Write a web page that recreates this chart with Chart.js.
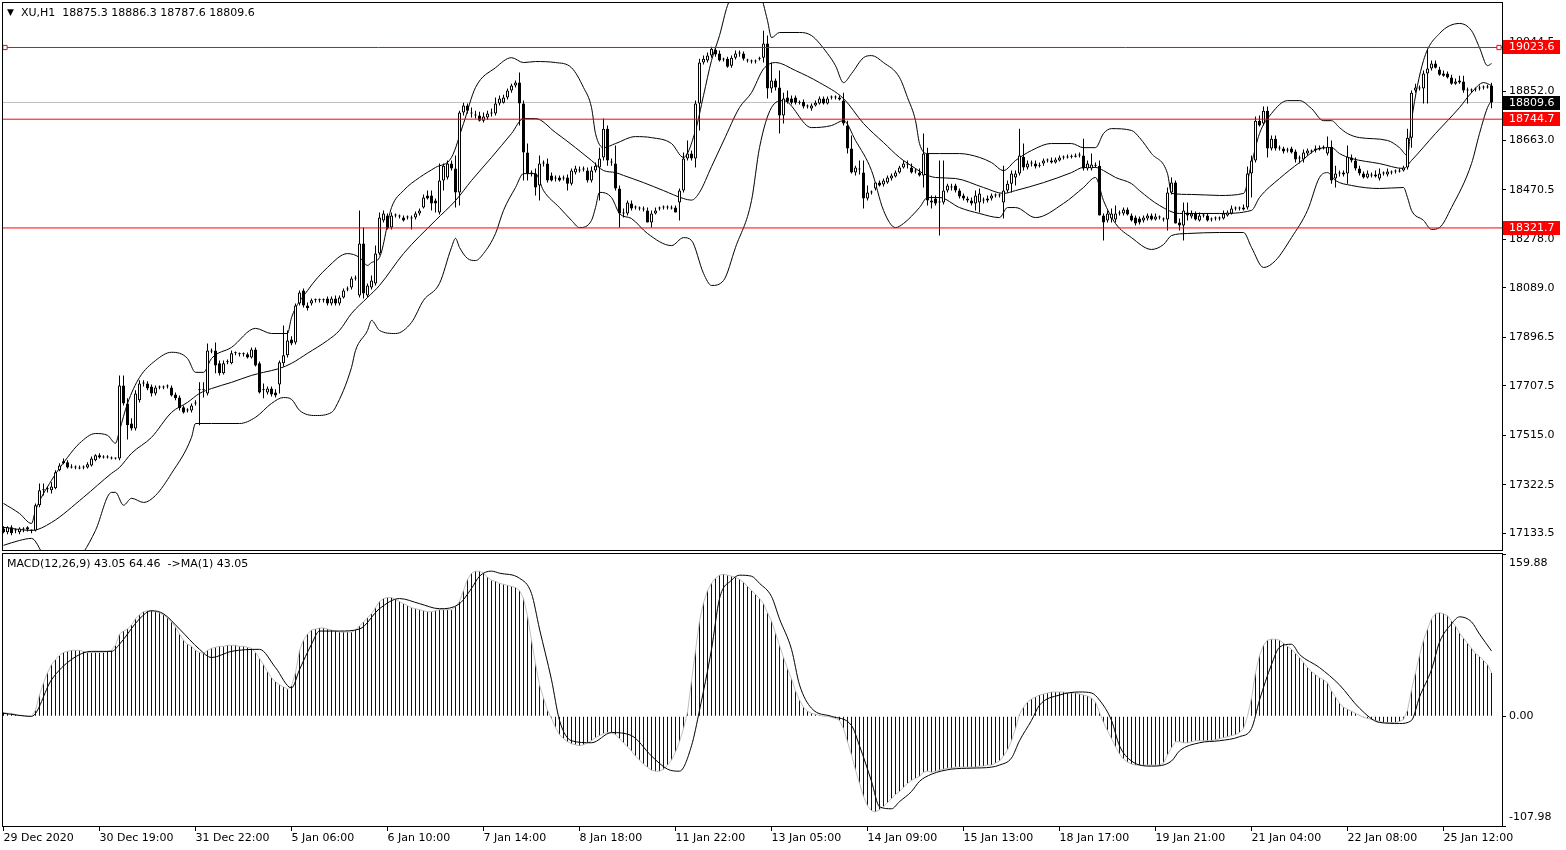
<!DOCTYPE html>
<html>
<head>
<meta charset="utf-8">
<title>XU,H1</title>
<script src="https://cdn.jsdelivr.net/npm/chart.js@4.4.1/dist/chart.umd.min.js"></script>
<style>
  body { margin: 0; background: #fff; }
  #wrap { position: relative; width: 1566px; height: 850px; overflow: hidden; background: #fff; }
  canvas { position: absolute; left: 0; }
  #main { top: 0; }
  #macd { top: 552px; }
  .txt { position: absolute; font: 11px/13px "DejaVu Sans"; color: #000; white-space: pre; }
</style>
</head>
<body>
<div id="wrap">
  <canvas id="main" width="1566" height="551"></canvas>
  <canvas id="macd" width="1566" height="298"></canvas>
  <div class="txt" style="left:7px;top:6px;font-size:9px">▼</div>
  <div class="txt" style="left:21px;top:6px">XU,H1  18875.3 18886.3 18787.6 18809.6</div>
  <div class="txt" style="left:7px;top:557px">MACD(12,26,9) 43.05 64.46  -&gt;MA(1) 43.05</div>
</div>
<script>
// time axis: bar index of each label and its text
const timeTicks = [0, 24, 48, 72, 96, 120, 144, 168, 192, 216, 240, 264, 288, 312, 336, 360];
const timeLabels = ['29 Dec 2020', '30 Dec 19:00', '31 Dec 22:00', '5 Jan 06:00', '6 Jan 10:00',
  '7 Jan 14:00', '8 Jan 18:00', '11 Jan 22:00', '13 Jan 05:00', '14 Jan 09:00', '15 Jan 13:00',
  '18 Jan 17:00', '19 Jan 21:00', '21 Jan 04:00', '22 Jan 08:00', '25 Jan 12:00'];

const priceTicks = [19044.5, 18852.0, 18663.0, 18470.5, 18278.0, 18089.0, 17896.5, 17707.5, 17515.0, 17322.5, 17133.5];
const macdTicks = [-107.98, 0, 159.88];

const levels = [19023.6, 18744.7, 18321.7];
const bid = 18809.6;

// XU H1 candles: open, high, low, close
const ohlc = [
  [17153,17161,17134,17138],[17138,17161,17130,17157],[17157,17165,17126,17134],[17145,17153,17134,17145],
  [17138,17157,17130,17153],[17149,17157,17138,17149],[17157,17161,17141,17149],[17145,17149,17134,17145],
  [17145,17250,17141,17243],[17243,17328,17235,17301],[17301,17328,17281,17305],[17305,17316,17293,17305],
  [17301,17332,17289,17316],[17309,17379,17305,17371],[17379,17406,17375,17398],[17406,17425,17402,17414],
  [17410,17418,17386,17390],[17394,17402,17386,17390],[17390,17398,17383,17390],[17390,17398,17383,17386],
  [17390,17398,17383,17390],[17390,17410,17386,17402],[17398,17433,17394,17425],[17418,17441,17414,17437],
  [17437,17445,17425,17429],[17429,17437,17425,17429],[17429,17437,17425,17429],[17425,17433,17421,17425],
  [17425,17429,17421,17425],[17425,17748,17418,17709],[17709,17748,17631,17639],[17639,17659,17499,17554],
  [17561,17581,17534,17542],[17542,17690,17534,17678],[17651,17729,17643,17717],[17717,17729,17705,17717],
  [17717,17725,17690,17697],[17705,17713,17666,17678],[17678,17709,17670,17701],[17701,17709,17694,17701],
  [17701,17709,17694,17701],[17705,17713,17697,17705],[17701,17709,17666,17670],[17674,17682,17651,17659],
  [17662,17670,17612,17620],[17624,17631,17600,17604],[17612,17620,17604,17612],[17612,17639,17604,17631],
  [17639,17651,17631,17639],[17690,17721,17554,17690],[17690,17721,17662,17690],[17678,17872,17670,17845],
  [17841,17853,17834,17845],[17845,17876,17756,17787],[17795,17806,17748,17756],[17756,17806,17752,17795],
  [17799,17810,17791,17799],[17795,17845,17791,17834],[17834,17841,17826,17834],[17830,17837,17822,17830],
  [17830,17837,17822,17830],[17830,17837,17814,17818],[17818,17857,17814,17849],[17849,17857,17783,17787],
  [17795,17802,17678,17682],[17690,17717,17659,17690],[17682,17705,17674,17697],[17697,17705,17666,17674],
  [17682,17694,17662,17670],[17713,17806,17678,17799],[17795,17942,17783,17826],[17826,17923,17818,17884],
  [17888,17900,17865,17872],[17876,18028,17868,18020],[18028,18078,18020,18071],[18078,18086,18012,18020],
  [18020,18032,18001,18009],[18028,18047,18020,18040],[18040,18047,18032,18040],[18040,18047,18032,18040],
  [18040,18047,18032,18040],[18047,18055,18020,18028],[18028,18055,18020,18047],[18047,18059,18020,18028],
  [18028,18059,18020,18051],[18051,18086,18047,18078],[18082,18094,18075,18086],[18090,18133,18082,18125],
  [18125,18137,18117,18125],[18059,18390,18051,18261],[18261,18323,18047,18067],[18059,18106,18051,18098],
  [18090,18137,18082,18117],[18106,18253,18098,18222],[18222,18382,18215,18362],[18351,18390,18343,18378],
  [18370,18378,18316,18320],[18323,18382,18316,18370],[18370,18378,18362,18370],[18366,18374,18358,18366],
  [18362,18370,18347,18351],[18362,18370,18355,18362],[18358,18370,18316,18358],[18362,18386,18355,18378],
  [18378,18397,18370,18390],[18401,18452,18397,18440],[18448,18467,18432,18436],[18448,18467,18390,18417],
  [18428,18436,18382,18417],[18382,18572,18374,18506],[18506,18572,18467,18564],[18518,18584,18510,18572],
  [18572,18584,18545,18553],[18553,18603,18401,18460],[18460,18778,18409,18771],[18771,18809,18759,18798],
  [18798,18806,18767,18778],[18767,18790,18751,18767],[18759,18778,18747,18759],[18759,18774,18736,18739],
  [18739,18771,18732,18755],[18751,18778,18743,18767],[18767,18786,18755,18767],[18767,18829,18759,18806],
  [18806,18837,18798,18825],[18809,18840,18806,18829],[18829,18864,18821,18856],[18856,18883,18848,18876],
  [18876,18895,18868,18887],[18887,18926,18720,18806],[18806,18817,18506,18615],[18615,18650,18506,18533],
  [18533,18545,18522,18537],[18533,18553,18448,18479],[18487,18603,18428,18572],[18572,18584,18561,18572],
  [18572,18592,18498,18506],[18526,18537,18502,18506],[18514,18526,18502,18514],[18518,18526,18502,18506],
  [18514,18526,18506,18514],[18518,18530,18467,18494],[18494,18553,18487,18545],[18537,18564,18530,18553],
  [18545,18561,18537,18545],[18549,18561,18541,18549],[18545,18557,18498,18506],[18506,18561,18498,18545],
  [18545,18576,18537,18564],[18557,18634,18428,18592],[18596,18747,18584,18708],[18708,18720,18564,18584],
  [18576,18592,18564,18576],[18572,18642,18467,18475],[18475,18487,18323,18378],[18382,18397,18362,18378],
  [18378,18428,18370,18421],[18417,18428,18390,18397],[18401,18409,18393,18401],[18397,18405,18390,18397],
  [18393,18405,18386,18393],[18390,18401,18343,18343],[18343,18390,18323,18378],[18378,18401,18374,18390],
  [18397,18405,18390,18397],[18401,18409,18393,18401],[18401,18409,18393,18401],[18401,18409,18393,18397],
  [18401,18409,18382,18382],[18421,18475,18351,18467],[18467,18615,18460,18592],[18592,18662,18584,18611],
  [18611,18623,18584,18592],[18592,18817,18557,18806],[18806,18980,18701,18965],[18965,18992,18957,18980],
  [18973,19004,18965,18992],[18992,19027,18984,19019],[19015,19027,18988,18996],[19000,19012,18969,18973],
  [18977,18984,18969,18977],[18980,18988,18945,18949],[18953,18992,18945,18984],[18984,19012,18977,19000],
  [19000,19012,18988,19000],[19000,19008,18973,18980],[18973,18980,18965,18973],[18969,18977,18961,18969],
  [18969,18977,18961,18969],[18980,18988,18973,18980],[18984,19089,18965,19039],[19039,19070,18825,18864],
  [18864,18965,18848,18895],[18895,18903,18856,18868],[18868,18934,18689,18759],[18759,18848,18728,18825],
  [18829,18856,18806,18813],[18825,18837,18802,18809],[18829,18837,18802,18809],[18809,18817,18802,18809],
  [18813,18821,18786,18794],[18794,18802,18786,18794],[18786,18806,18778,18798],[18798,18817,18794,18809],
  [18806,18833,18802,18825],[18825,18833,18802,18806],[18806,18833,18802,18825],[18829,18837,18821,18829],
  [18829,18837,18821,18829],[18829,18837,18817,18821],[18817,18848,18720,18728],[18720,18739,18611,18631],
  [18631,18681,18533,18537],[18537,18564,18526,18557],[18549,18584,18530,18549],[18537,18584,18397,18436],
  [18436,18487,18428,18460],[18460,18467,18452,18460],[18475,18498,18467,18498],[18498,18506,18483,18487],
  [18491,18514,18483,18506],[18498,18526,18494,18518],[18514,18533,18506,18526],[18522,18545,18518,18537],
  [18537,18564,18533,18557],[18557,18584,18553,18572],[18568,18584,18553,18568],[18557,18572,18533,18537],
  [18541,18553,18533,18541],[18537,18553,18522,18526],[18526,18689,18479,18611],[18611,18634,18409,18428],
  [18428,18448,18397,18421],[18436,18448,18409,18417],[18421,18584,18292,18421],[18421,18584,18413,18467],
  [18467,18494,18460,18487],[18479,18494,18467,18479],[18487,18494,18460,18467],[18467,18475,18436,18444],
  [18448,18456,18428,18436],[18436,18444,18421,18428],[18428,18440,18409,18417],[18417,18467,18390,18448],
  [18421,18475,18382,18456],[18428,18440,18417,18428],[18428,18448,18421,18436],[18436,18456,18428,18448],
  [18448,18456,18440,18448],[18448,18456,18440,18448],[18421,18564,18358,18467],[18467,18506,18460,18494],
  [18494,18545,18460,18533],[18518,18545,18487,18533],[18533,18708,18526,18603],[18599,18650,18545,18557],
  [18557,18584,18549,18572],[18572,18584,18561,18572],[18572,18584,18553,18561],[18564,18576,18557,18564],
  [18572,18592,18564,18584],[18584,18592,18576,18584],[18584,18596,18572,18576],[18576,18596,18572,18588],
  [18584,18603,18580,18596],[18596,18603,18588,18596],[18596,18607,18592,18599],[18599,18607,18592,18599],
  [18599,18611,18596,18603],[18603,18615,18596,18603],[18603,18669,18545,18553],[18553,18584,18545,18572],
  [18553,18611,18545,18568],[18564,18576,18557,18564],[18564,18584,18370,18370],[18370,18378,18273,18343],
  [18351,18390,18343,18378],[18358,18397,18343,18378],[18355,18409,18343,18378],[18378,18390,18370,18378],
  [18378,18401,18370,18393],[18393,18401,18370,18374],[18370,18378,18347,18351],[18362,18370,18331,18339],
  [18358,18366,18335,18343],[18351,18370,18343,18362],[18358,18378,18351,18370],[18370,18378,18351,18355],
  [18355,18378,18351,18366],[18362,18370,18355,18362],[18355,18362,18347,18355],[18355,18479,18312,18460],
  [18460,18518,18452,18498],[18498,18506,18339,18339],[18343,18358,18312,18331],[18331,18421,18273,18390],
  [18382,18421,18351,18370],[18366,18390,18358,18378],[18378,18386,18351,18355],[18351,18382,18347,18370],
  [18370,18378,18362,18370],[18370,18378,18347,18351],[18355,18362,18347,18355],[18358,18366,18351,18358],
  [18358,18366,18351,18358],[18358,18390,18355,18378],[18370,18390,18366,18382],[18378,18409,18374,18397],
  [18397,18405,18390,18397],[18397,18405,18390,18397],[18393,18413,18390,18401],[18401,18561,18393,18533],
  [18533,18603,18440,18584],[18584,18755,18576,18739],[18739,18759,18716,18720],[18728,18794,18720,18778],
  [18778,18794,18596,18631],[18631,18681,18623,18669],[18669,18681,18623,18631],[18631,18642,18623,18631],
  [18631,18638,18611,18619],[18623,18634,18615,18623],[18631,18638,18611,18615],[18619,18627,18576,18588],
  [18592,18603,18572,18592],[18588,18627,18576,18615],[18611,18631,18603,18623],[18619,18627,18611,18619],
  [18623,18642,18615,18631],[18627,18642,18623,18634],[18634,18642,18627,18634],[18611,18677,18603,18638],
  [18638,18662,18494,18506],[18514,18564,18479,18533],[18533,18545,18522,18533],[18530,18545,18522,18537],
  [18533,18642,18494,18599],[18596,18607,18576,18584],[18584,18596,18545,18553],[18553,18564,18526,18533],
  [18533,18541,18514,18518],[18518,18545,18514,18533],[18526,18537,18518,18526],[18522,18545,18518,18530],
  [18514,18553,18506,18533],[18533,18541,18526,18533],[18530,18553,18522,18541],[18537,18545,18530,18537],
  [18541,18549,18533,18541],[18541,18553,18537,18545],[18545,18564,18541,18557],[18557,18708,18549,18673],
  [18673,18856,18634,18848],[18856,18883,18848,18868],[18864,18876,18856,18864],[18864,18934,18806,18922],
  [18922,19019,18806,18942],[18942,18973,18934,18961],[18961,18973,18942,18945],[18938,18949,18914,18918],
  [18922,18934,18910,18914],[18922,18930,18903,18907],[18907,18918,18879,18883],[18883,18903,18879,18891],
  [18887,18914,18883,18895],[18891,18914,18848,18856],[18856,18868,18806,18856],[18856,18864,18848,18856],
  [18860,18868,18852,18860],[18864,18876,18856,18868],[18868,18876,18860,18868],[18868,18879,18864,18872],
  [18875.3,18886.3,18787.6,18809.6]
];

// Bollinger bands (20, 2): [bar index, price]
const bbUpper = [[0,17250],[4,17211],[7,17172],[8,17223],[12,17340],[16,17429],[19,17484],[23,17522],[26,17515],[28,17484],
  [29,17534],[31,17639],[34,17740],[38,17806],[42,17838],[46,17814],[48,17760],[50,17760],[52,17814],[57,17857],
  [63,17931],[67,17911],[71,17911],[72,17973],[76,18078],[81,18168],[86,18222],[89,18207],[91,18176],[92,18187],
  [94,18207],[97,18401],[100,18467],[104,18518],[108,18557],[112,18596],[115,18728],[118,18868],[123,18945],[127,18984],
  [130,18965],[133,18969],[138,18965],[142,18945],[145,18868],[147,18790],[148,18689],[150,18634],[153,18650],[158,18677],
  [162,18673],[167,18650],[170,18596],[173,18701],[175,18837],[177,18973],[179,19070],[181,19187],[186,19323],[189,19245],
  [191,19128],[192,19062],[194,19082],[199,19082],[202,19070],[206,19000],[208,18953],[210,18887],[212,18922],[215,18984],
  [217,18992],[220,18965],[224,18907],[226,18829],[228,18739],[229,18650],[231,18611],[234,18611],[239,18611],[244,18596],
  [247,18576],[250,18545],[253,18584],[257,18623],[262,18650],[267,18650],[270,18634],[273,18634],[275,18689],[277,18708],
  [282,18701],[284,18673],[287,18611],[291,18533],[292,18456],[297,18452],[304,18448],[310,18456],[312,18572],[314,18689],
  [317,18767],[321,18817],[324,18817],[327,18786],[330,18739],[332,18739],[334,18712],[336,18689],[339,18673],[346,18662],
  [349,18634],[351,18603],[352,18739],[355,18973],[359,19078],[364,19117],[367,19089],[369,19023],[371,18953],[372,18961]];

const bbMiddle = [[0,17157],[7,17145],[12,17176],[20,17274],[27,17367],[29,17390],[32,17445],[37,17507],[42,17604],[46,17643],
  [49,17678],[52,17697],[57,17721],[62,17748],[65,17760],[69,17775],[72,17795],[76,17834],[81,17884],[84,17923],
  [87,17989],[91,18051],[94,18098],[100,18222],[108,18351],[113,18428],[117,18506],[122,18596],[127,18689],[130,18747],
  [133,18747],[138,18693],[143,18634],[147,18584],[150,18545],[153,18537],[155,18526],[160,18498],[165,18467],[170,18436],
  [172,18430],[174,18460],[177,18560],[180,18660],[184,18790],[187,18848],[190,18940],[193,18965],[198,18934],[204,18887],
  [210,18825],[215,18728],[220,18654],[224,18596],[228,18553],[230,18533],[233,18518],[238,18514],[245,18479],[250,18456],
  [253,18467],[260,18498],[267,18537],[270,18557],[273,18557],[275,18545],[278,18518],[282,18494],[284,18467],[289,18409],
  [294,18378],[304,18378],[312,18390],[314,18440],[319,18514],[324,18576],[329,18631],[332,18634],[334,18611],[337,18592],
  [344,18572],[350,18553],[352,18584],[358,18689],[364,18790],[367,18848],[370,18887],[372,18876]];

const bbLower = [[0,17087],[4,17106],[7,17114],[10,17048],[14,16951],[20,17060],[23,17145],[27,17293],[28,17293],[30,17243],
  [32,17270],[35,17254],[38,17281],[42,17367],[47,17507],[48,17561],[52,17561],[59,17561],[63,17585],[67,17639],
  [70,17662],[72,17655],[74,17612],[78,17592],[82,17604],[83,17624],[87,17779],[88,17845],[91,17923],[92,17962],
  [94,17923],[98,17911],[102,17954],[105,18040],[109,18106],[112,18246],[113,18281],[114,18246],[116,18203],[118,18195],
  [120,18222],[123,18300],[125,18390],[128,18479],[130,18533],[133,18533],[135,18467],[139,18401],[142,18351],[144,18323],
  [147,18351],[148,18401],[149,18460],[152,18440],[154,18378],[157,18358],[161,18300],[167,18253],[170,18284],[172,18273],
  [175,18145],[177,18098],[180,18117],[183,18246],[187,18428],[189,18634],[192,18790],[195,18817],[202,18712],[207,18720],
  [210,18739],[213,18662],[217,18545],[220,18390],[223,18323],[225,18339],[229,18401],[231,18440],[234,18440],[239,18401],
  [244,18378],[249,18362],[251,18401],[253,18401],[258,18362],[265,18417],[270,18479],[273,18518],[275,18428],[278,18339],
  [282,18284],[287,18238],[290,18257],[292,18292],[296,18300],[304,18304],[310,18304],[312,18246],[315,18168],[318,18195],
  [322,18284],[326,18390],[329,18518],[331,18537],[333,18506],[337,18487],[344,18475],[350,18479],[351,18440],[352,18390],
  [355,18351],[357,18316],[359,18323],[362,18401],[367,18572],[369,18689],[371,18790],[372,18817]];

// MACD(12,26,9) main line, one value per bar
const macdMain = [
  4,3,3,2,1,1,0,0,6,21,
  33,43,51,56,60,63,64,65,65,65,
  64,63,63,63,63,63,64,65,70,81,
  84,86,90,96,100,103,104,104,103,102,
  100,97,93,88,81,75,71,69,65,63,
  62,65,67,68,69,69,70,70,70,69,
  69,68,67,63,57,51,44,38,34,31,
  29,27,30,43,65,75,81,85,86,87,
  87,86,85,84,83,83,83,83,85,89,
  93,97,101,107,113,116,117,117,115,113,
  111,109,107,106,105,104,103,103,104,105,
  105,105,105,108,113,124,135,141,143,143,
  141,137,134,133,131,130,129,128,127,124,
  116,99,75,52,31,18,6,-2,-11,-18,
  -22,-25,-27,-28,-29,-28,-26,-24,-21,-19,
  -17,-16,-16,-18,-22,-26,-30,-34,-39,-43,
  -47,-50,-53,-54,-54,-52,-48,-43,-35,-25,
  -12,4,35,65,94,112,124,131,136,139,
  140,139,138,137,135,132,128,124,120,116,
  111,102,94,82,70,58,47,37,25,16,
  9,5,3,2,1,0,0,-1,-2,-4,
  -12,-25,-38,-53,-66,-79,-88,-93,-94,-92,
  -89,-85,-81,-77,-74,-70,-66,-63,-61,-59,
  -55,-54,-55,-54,-53,-52,-51,-51,-50,-50,
  -50,-50,-50,-50,-49,-49,-48,-48,-46,-44,
  -39,-33,-24,-12,2,9,14,17,19,21,
  22,23,24,24,24,24,23,23,23,22,
  21,20,18,14,4,-6,-14,-22,-30,-37,
  -42,-45,-47,-48,-48,-48,-48,-48,-48,-48,
  -46,-38,-31,-25,-25,-26,-26,-25,-24,-24,
  -24,-24,-24,-23,-22,-21,-20,-19,-18,-16,
  -12,0,18,43,60,70,75,76,76,75,
  72,69,66,62,58,53,48,44,41,38,
  36,33,25,19,13,9,7,5,3,1,
  -1,-2,-3,-4,-5,-6,-6,-6,-6,-5,
  -3,6,26,43,60,75,86,96,101,102,
  101,99,94,89,82,77,72,67,62,59,
  55,51,43.05
];

// signal line: [bar index, value]
const macdSignal = [[0,3],[7,0],[12,36],[17,56],[22,64],[27,64],[29,71],[34,96],[37,104],[40,101],
  [44,86],[49,66],[52,58],[57,64],[64,66],[68,48],[72,28],[74,46],[77,71],[79,84],
  [84,84],[89,86],[94,106],[99,116],[104,111],[109,106],[114,111],[117,126],[119,138],[122,143],
  [124,141],[129,136],[132,121],[134,86],[137,36],[139,-4],[142,-24],[147,-26],[152,-16],[157,-19],
  [162,-39],[166,-52],[169,-54],[172,-29],[174,6],[177,66],[179,116],[182,134],[184,139],[187,138],
  [189,131],[192,118],[194,96],[197,66],[199,31],[202,8],[207,0],[212,-9],[214,-29],[217,-64],
  [219,-89],[222,-91],[224,-84],[227,-74],[229,-64],[232,-57],[237,-52],[242,-51],[247,-50],[249,-48],
  [252,-41],[254,-24],[257,-4],[259,11],[264,21],[269,24],[272,23],[274,16],[277,-4],[279,-29],
  [282,-44],[287,-49],[292,-44],[294,-34],[299,-26],[304,-24],[309,-20],[312,-12],[314,16],[317,51],
  [319,68],[322,71],[324,61],[329,48],[334,31],[339,8],[344,-6],[349,-7],[352,-4],[354,19],
  [357,46],[359,73],[362,91],[364,98],[367,93],[369,81],[372,64.46]];

const X_MIN = -0.375, X_MAX = 374.625;
const FONT = { family: 'DejaVu Sans', size: 11 };
const RED = '#ff0000';

const pts = arr => arr.map(p => ({ x: p[0], y: p[1] }));

const framePlugin = {
  id: 'frame',
  afterDraw(chart) {
    const { ctx, chartArea: a } = chart;
    ctx.save();
    ctx.strokeStyle = '#000';
    ctx.lineWidth = 1;
    ctx.strokeRect(a.left + 0.5, a.top - 0.5, a.right - a.left, a.bottom - a.top + 1);
    ctx.restore();
  }
};

const tagPlugin = {
  id: 'tags',
  afterDraw(chart) {
    const { ctx, scales: { y } } = chart;
    const tags = [[levels[0], RED], [bid, '#000'], [levels[1], RED], [levels[2], RED]];
    ctx.save();
    ctx.font = '11px "DejaVu Sans"';
    ctx.textBaseline = 'middle';
    tags.forEach(([v, c]) => {
      const py = Math.round(y.getPixelForValue(v));
      ctx.fillStyle = c;
      ctx.fillRect(1503, py - 7, 57, 14);
      ctx.fillStyle = '#fff';
      ctx.fillText(v.toFixed(1), 1509, py);
    });
    ctx.restore();
  }
};

const hline = (v, color, marks) => ({
  type: 'line',
  data: (marks ? [X_MIN, X_MIN + 0.75, X_MAX - 0.75, X_MAX] : [X_MIN, X_MAX]).map(x => ({ x, y: v })),
  borderColor: color,
  borderWidth: 1,
  pointRadius: marks ? [0, 3, 3, 0] : 0,
  pointStyle: 'rect',
  pointBackgroundColor: '#fff',
  pointBorderColor: color,
  pointBorderWidth: 1,
  order: 0
});

const band = arr => ({
  type: 'line', data: pts(arr), borderColor: '#000', borderWidth: 1,
  pointRadius: 0, cubicInterpolationMode: 'monotone', order: 3
});

const baseOpts = {
  responsive: false,
  animation: false,
  events: [],
  plugins: { legend: { display: false }, tooltip: { enabled: false } }
};

const yAxis = (min, max, ticks, fmt, font) => ({
  position: 'right', min, max, beginAtZero: false,
  afterFit: s => { s.width = 64; s.paddingTop = 0; s.paddingBottom = 0; },
  afterBuildTicks: s => { s.ticks = ticks.map(v => ({ value: v })); },
  ticks: { callback: fmt, color: '#000', font: font || FONT, padding: 3, autoSkip: false },
  grid: { drawOnChartArea: false, color: '#000', tickLength: 4 },
  border: { display: false }
});

new Chart(document.getElementById('main'), {
  type: 'bar',
  data: {
    datasets: [
      hline(levels[0], RED, true),
      hline(levels[1], RED, false),
      hline(levels[2], RED, false),
      Object.assign(hline(bid, '#c0c0c0', false), { order: 4 }),
      band(bbUpper), band(bbMiddle), band(bbLower),
      {
        type: 'bar',
        data: ohlc.map((r, i) => ({ x: i, y: [r[2], r[1]] })),
        backgroundColor: '#000', borderWidth: 0, barThickness: 1,
        grouped: false, inflateAmount: 0, order: 2
      },
      {
        type: 'bar',
        data: ohlc.map((r, i) => ({ x: i, y: [r[0], r[3]] })),
        backgroundColor: ohlc.map(r => r[3] >= r[0] ? '#fff' : '#000'),
        borderColor: '#000', borderWidth: 1, borderSkipped: false,
        barThickness: 3, minBarLength: 1, grouped: false, inflateAmount: 0, order: 1
      }
    ]
  },
  options: Object.assign({}, baseOpts, {
    layout: { padding: { left: 2, top: 3, right: 0, bottom: 1 } },
    scales: {
      x: { type: 'linear', min: X_MIN, max: X_MAX, offset: false, display: false, grid: { offset: false } },
      y: yAxis(17068.9, 19196.7, priceTicks, v => v.toFixed(1))
    }
  }),
  plugins: [framePlugin, tagPlugin]
});

new Chart(document.getElementById('macd'), {
  type: 'bar',
  data: {
    datasets: [
      {
        type: 'line', data: pts(macdSignal), borderColor: '#000', borderWidth: 1,
        pointRadius: 0, cubicInterpolationMode: 'monotone', order: 0
      },
      {
        type: 'line', data: macdMain.map((v, i) => ({ x: i, y: v })), borderColor: '#c0c0c0',
        borderWidth: 1, pointRadius: 0, order: 1
      },
      {
        type: 'bar', data: macdMain.map((v, i) => ({ x: i, y: v })), backgroundColor: '#000080',
        borderWidth: 0, barThickness: 1, grouped: false, inflateAmount: 0, order: 2
      }
    ]
  },
  options: Object.assign({}, baseOpts, {
    layout: { padding: { left: 2, top: 2, right: 0, bottom: 0 } },
    scales: {
      x: {
        type: 'linear', min: X_MIN, max: X_MAX, offset: false, position: 'bottom',
        afterFit: s => { s.height = 24; },
        afterBuildTicks: s => { s.ticks = timeTicks.map(v => ({ value: v })); },
        ticks: {
          callback: (v, k) => timeLabels[k], align: 'start', autoSkip: false,
          maxRotation: 0, minRotation: 0, padding: 1, color: '#000', font: FONT
        },
        grid: { drawOnChartArea: false, color: '#000', tickLength: 5, offset: false },
        border: { display: false }
      },
      y: yAxis(macdTicks[0], macdTicks[2], macdTicks, v => {
        if (v === macdTicks[2]) return ['', v.toFixed(2)];
        if (v === macdTicks[0]) return [v.toFixed(2), ''];
        return v.toFixed(2);
      }, { family: 'DejaVu Sans', size: 11, lineHeight: 1.6 })
    }
  }),
  plugins: [framePlugin]
});
</script>
</body>
</html>
